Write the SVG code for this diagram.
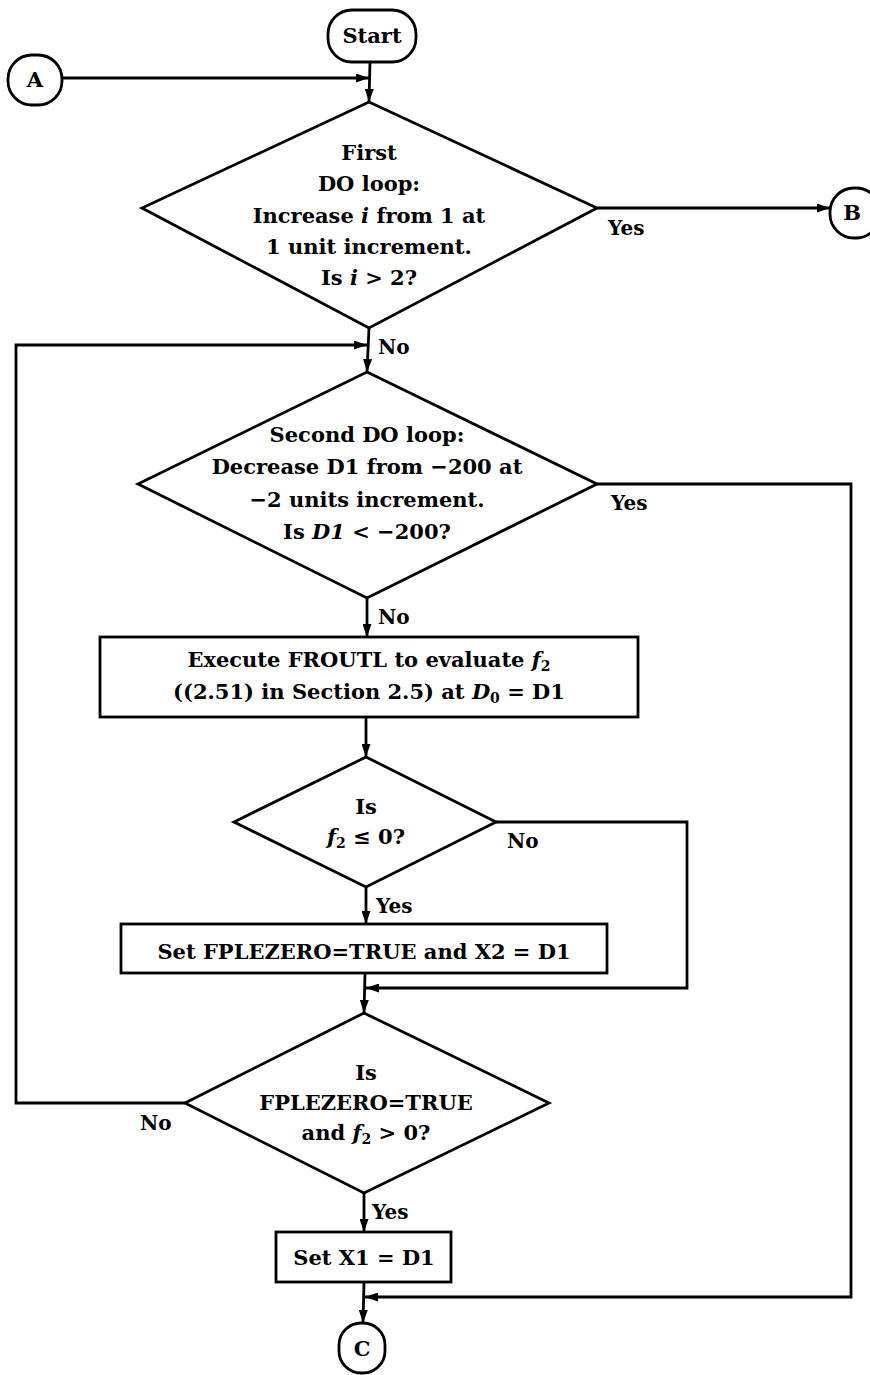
<svg xmlns="http://www.w3.org/2000/svg" width="870" height="1375" viewBox="0 0 870 1375">
<defs>
<style>
.n{fill:#fff;stroke:#000;stroke-width:2.8}
.t{font-family:"DejaVu Serif","Liberation Serif",serif;font-weight:bold;font-size:21px;fill:#000;text-anchor:middle}
.l{font-family:"DejaVu Serif","Liberation Serif",serif;font-weight:bold;font-size:20px;fill:#000}
.m{font-style:italic}
.sub{font-size:14px}
.c{fill:none;stroke:#000;stroke-width:2.8;marker-end:url(#ah)}
</style>
<marker id="ah" viewBox="0 0 13 9" refX="13" refY="4.5" markerWidth="13" markerHeight="9" markerUnits="userSpaceOnUse" orient="auto">
<path d="M0,0 L13,4.5 L0,9 Z" fill="#000"/>
</marker>
</defs>
<rect width="870" height="1375" fill="#fff"/>
<g id="connectors">
<path class="c" d="M62,78 L369,78"/>
<path class="c" d="M370,62 L369,102"/>
<path class="c" d="M597,208 L830,208"/>
<path class="c" d="M369,328 L367,372"/>
<path class="c" d="M185,1103 L16,1103 L16,345 L367,345"/>
<path class="c" d="M597,484 L851,484 L851,1297 L365,1297"/>
<path class="c" d="M367,598 L367,637"/>
<path class="c" d="M366,717 L366,757"/>
<path class="c" d="M496,822 L687,822 L687,988 L366,988"/>
<path class="c" d="M366,887 L366,924"/>
<path class="c" d="M365,973 L364,1013"/>
<path class="c" d="M364,1193 L364,1232"/>
<path class="c" d="M364,1282 L363,1323"/>
<text class="l" x="608" y="235">Yes</text>
<text class="l" x="378" y="354">No</text>
<text class="l" x="611" y="510">Yes</text>
<text class="l" x="378" y="624">No</text>
<text class="l" x="507" y="848">No</text>
<text class="l" x="376" y="913">Yes</text>
<text class="l" x="140" y="1130">No</text>
<text class="l" x="372" y="1219">Yes</text>
</g>
<g id="start">
<rect class="n" x="328" y="10" width="88" height="52" rx="24"/>
<text class="t" x="372" y="43">Start</text>
</g>
<g id="connA">
<rect class="n" x="8" y="55" width="54" height="50" rx="24"/>
<text class="t" x="35" y="87">A</text>
</g>
<g id="connB">
<rect class="n" x="830" y="188" width="50" height="50" rx="24"/>
<text class="t" x="852" y="220">B</text>
</g>
<g id="loop1">
<polygon class="n" points="369,102 597,208 369,328 142,208"/>
<text class="t" x="369" y="160">First</text>
<text class="t" x="369" y="191">DO loop:</text>
<text class="t" x="369" y="223">Increase <tspan class="m">i</tspan> from 1 at</text>
<text class="t" x="369" y="254">1 unit increment.</text>
<text class="t" x="369" y="285">Is <tspan class="m">i</tspan> &gt; 2?</text>
</g>
<g id="loop2">
<polygon class="n" points="367,372 597,484 367,598 138,484"/>
<text class="t" x="367" y="442">Second DO loop:</text>
<text class="t" x="367" y="474">Decrease D1 from −200 at</text>
<text class="t" x="367" y="507">−2 units increment.</text>
<text class="t" x="367" y="539">Is <tspan class="m">D1</tspan> &lt; −200?</text>
</g>
<g id="froutl">
<rect class="n" x="100" y="637" width="538" height="80"/>
<text class="t" x="369" y="667">Execute FROUTL to evaluate <tspan class="m">f</tspan><tspan class="sub" dy="4">2</tspan></text>
<text class="t" x="369" y="699">((2.51) in Section 2.5) at <tspan class="m">D</tspan><tspan class="sub" dy="4">0</tspan><tspan dy="-4"> = D1</tspan></text>
</g>
<g id="test_f2">
<polygon class="n" points="366,757 496,822 366,887 234,822"/>
<text class="t" x="366" y="814">Is</text>
<text class="t" x="366" y="844"><tspan class="m">f</tspan><tspan class="sub" dy="4">2</tspan><tspan dy="-4"> ≤ 0?</tspan></text>
</g>
<g id="set_x2">
<rect class="n" x="121" y="924" width="486" height="49"/>
<text class="t" x="364" y="959">Set FPLEZERO=TRUE and X2 = D1</text>
</g>
<g id="test_fplezero">
<polygon class="n" points="364,1013 549,1103 364,1193 185,1103"/>
<text class="t" x="366" y="1080">Is</text>
<text class="t" x="366" y="1110">FPLEZERO=TRUE</text>
<text class="t" x="366" y="1140">and <tspan class="m">f</tspan><tspan class="sub" dy="4">2</tspan><tspan dy="-4"> &gt; 0?</tspan></text>
</g>
<g id="set_x1">
<rect class="n" x="276" y="1232" width="175" height="50"/>
<text class="t" x="364" y="1265">Set X1 = D1</text>
</g>
<g id="connC">
<rect class="n" x="339" y="1323" width="46" height="50" rx="22"/>
<text class="t" x="362" y="1356">C</text>
</g>
</svg>
